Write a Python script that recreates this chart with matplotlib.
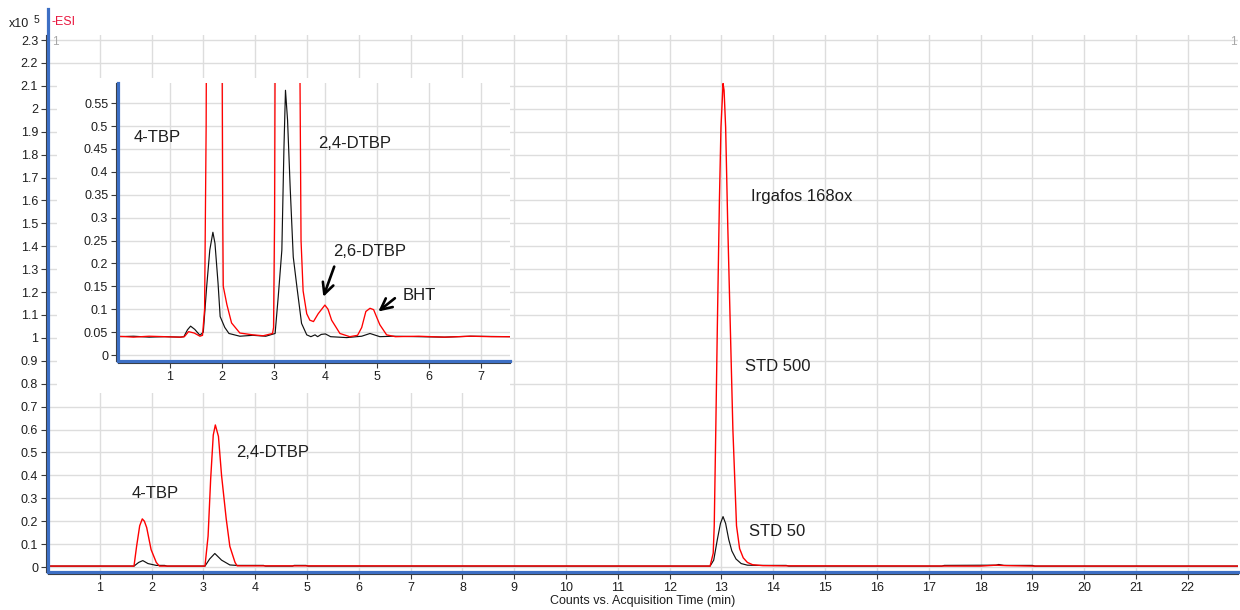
import numpy as np
import matplotlib
matplotlib.use("Agg")
import matplotlib.pyplot as plt
from matplotlib.patches import Rectangle
from matplotlib.ticker import FuncFormatter

plt.rcParams['font.family'] = ['Liberation Sans', 'DejaVu Sans']

# ---------------- data (x10^5 counts vs. acquisition time in min) ----------------
# STD 500 trace (red), full run
std500_t = [0.0, 1.66, 1.71, 1.77, 1.82, 1.86, 1.905, 1.99, 2.09, 2.15,
            3.03, 3.09, 3.14, 3.19, 3.23, 3.29, 3.35, 3.44, 3.51, 3.61, 3.65,
            12.78, 12.84, 12.86, 12.89, 12.92, 12.96, 12.99, 13.03, 13.05, 13.08,
            13.12, 13.17, 13.22, 13.29, 13.35, 13.42, 13.5, 13.6, 13.8, 14.2,
            18.0, 18.3, 18.5, 19.0, 22.97]
std500_i = [0.004, 0.004, 0.09, 0.18, 0.21, 0.20, 0.172, 0.076, 0.02, 0.004,
            0.004, 0.135, 0.385, 0.576, 0.62, 0.57, 0.40, 0.21, 0.09, 0.02, 0.005,
            0.004, 0.06, 0.18, 0.6, 1.05, 1.6, 1.92, 2.11, 2.08, 1.92,
            1.5, 1.05, 0.6, 0.18, 0.08, 0.04, 0.02, 0.01, 0.006, 0.005,
            0.004, 0.008, 0.006, 0.004, 0.004]

# STD 50 trace (black), full run
std50_t = [0.0, 1.66, 1.75, 1.83, 1.93, 2.09, 2.25, 2.3,
           3.03, 3.12, 3.22, 3.35, 3.51, 3.64, 4.16, 4.2, 4.72, 4.75, 4.98, 5.02,
           12.78, 12.85, 12.92, 12.98, 13.03, 13.08, 13.14, 13.2, 13.28, 13.38,
           13.5, 13.7, 14.25, 14.3, 17.25, 17.3, 18.3, 18.35, 18.45, 19.0, 19.05, 22.97]
std50_i = [0.004, 0.004, 0.02, 0.028, 0.015, 0.007, 0.007, 0.004,
           0.004, 0.035, 0.059, 0.03, 0.009, 0.007, 0.007, 0.004, 0.004, 0.007, 0.007, 0.004,
           0.004, 0.03, 0.12, 0.19, 0.22, 0.19, 0.12, 0.07, 0.035, 0.015,
           0.008, 0.007, 0.007, 0.004, 0.004, 0.007, 0.008, 0.011, 0.007, 0.007, 0.004, 0.004]

# Zoomed region, STD 500 (red)
zoom500_t = [0.0, 0.3, 0.6, 0.9, 1.2, 1.28, 1.36, 1.47, 1.58, 1.63, 1.67, 1.70, 1.72,
             1.80, 1.84, 1.92, 1.98, 2.01, 2.02, 2.03, 2.10, 2.19, 2.35, 2.6, 2.8,
             2.98, 3.00, 3.02, 3.04, 3.15, 3.22, 3.30, 3.42, 3.48, 3.51, 3.53, 3.57,
             3.64, 3.70, 3.77, 3.86, 3.99, 4.05, 4.12, 4.28, 4.47, 4.62, 4.70, 4.78,
             4.86, 4.93, 4.98, 5.05, 5.18, 5.35, 5.8, 6.3, 6.8, 7.2, 7.56]
zoom500_i = [0.041, 0.039, 0.041, 0.040, 0.039, 0.040, 0.051, 0.048, 0.041, 0.043, 0.10, 0.5, 1.2,
             2.0, 2.1, 1.9, 1.2, 0.6, 0.3, 0.15, 0.11, 0.07, 0.048, 0.044, 0.042,
             0.047, 0.06, 0.3, 1.0, 4.5, 6.2, 5.0, 2.0, 1.5, 0.6, 0.25, 0.14,
             0.09, 0.076, 0.073, 0.09, 0.109, 0.10, 0.076, 0.047, 0.040, 0.043, 0.06, 0.095,
             0.102, 0.099, 0.085, 0.066, 0.044, 0.040, 0.041, 0.039, 0.041, 0.040, 0.040]

# Zoomed region, STD 50 (black)
zoom50_t = [0.0, 0.3, 0.6, 0.9, 1.2, 1.27, 1.34, 1.40, 1.48, 1.58, 1.645, 1.71, 1.77,
            1.83, 1.87, 1.93, 1.97, 2.06, 2.14, 2.35, 2.6, 2.85, 3.00, 3.03, 3.09,
            3.16, 3.20, 3.23, 3.27, 3.32, 3.38, 3.45, 3.54, 3.64, 3.72, 3.80, 3.85,
            3.92, 4.00, 4.10, 4.41, 4.70, 4.86, 5.05, 5.3, 5.8, 6.3, 6.8, 7.56]
zoom50_i = [0.040, 0.041, 0.039, 0.040, 0.039, 0.040, 0.055, 0.063, 0.056, 0.043, 0.050, 0.149, 0.229,
            0.268, 0.244, 0.156, 0.084, 0.060, 0.047, 0.041, 0.043, 0.041, 0.046, 0.047, 0.127,
            0.229, 0.45, 0.578, 0.513, 0.367, 0.214, 0.149, 0.069, 0.044, 0.040, 0.044, 0.040,
            0.045, 0.046, 0.040, 0.038, 0.041, 0.047, 0.040, 0.041, 0.040, 0.039, 0.041, 0.040]

main_xticks = list(range(1, 23))
main_yticks = [round(0.1 * k, 1) for k in range(24)]
zoom_xticks = list(range(1, 8))
zoom_yticks = [round(0.05 * k, 2) for k in range(12)]

# ---------------- layout helpers ----------------
W, H = 1240, 610
BLUE = '#3d6fc4'
GRID = '#dddddd'
TXT = '#1e1e1e'


def fx(px):
    return px / W


def fy(py):
    return 1 - py / H


fmt = FuncFormatter(lambda v, p: '%g' % v)

fig = plt.figure(figsize=(W / 100, H / 100), dpi=100)


def style_axes(a, ext_top=0.0):
    a.set_axisbelow(True)
    a.grid(True, color=GRID, lw=1.0)
    for s in ('top', 'right'):
        a.spines[s].set_visible(False)
    for s in ('left', 'bottom'):
        a.spines[s].set_color('#3a3a3a')
        a.spines[s].set_linewidth(0.8)
        a.spines[s].set_position(('outward', 1.6))
    a.tick_params(direction='out', length=3.5, width=0.8, color='#3a3a3a',
                  labelsize=9, labelcolor=TXT, pad=2)
    a.xaxis.set_major_formatter(fmt)
    a.yaxis.set_major_formatter(fmt)
    a.axvline(a.get_xlim()[0], ymin=0, ymax=1 + ext_top, color=BLUE, lw=2.3,
              clip_on=False, zorder=6)
    a.axhline(a.get_ylim()[0], color=BLUE, lw=2.3, clip_on=False, zorder=6)


# ---------------- main chromatogram ----------------
ax = fig.add_axes([fx(48), fy(572), fx(1238) - fx(48), fy(35) - fy(572)])
ax.set_xlim(0, 22.97)
ax.set_ylim(-0.0218, 2.322)
ax.set_xticks(main_xticks)
ax.set_yticks(main_yticks)
style_axes(ax, ext_top=26 / 537)

ax.plot(std50_t, std50_i, color='#111111', lw=0.85, zorder=3)
ax.plot(std500_t, std500_i, color='#ff0000', lw=1.0, zorder=4)

lab = dict(fontsize=12, color=TXT, ha='left', va='center')
ax.text(1.62, 0.323, '4-TBP', **lab)
ax.text(3.63, 0.50, '2,4-DTBP', **lab)
ax.text(13.57, 1.616, 'Irgafos 168ox', **lab)
ax.text(13.46, 0.873, 'STD 500', **lab)
ax.text(13.53, 0.157, 'STD 50', **lab)

# header marks
fig.text(fx(9), fy(24), 'x10', fontsize=9, color=TXT, ha='left', va='center')
fig.text(fx(34), fy(20), '5', fontsize=7.5, color=TXT, ha='left', va='center')
fig.text(fx(51), fy(22), '-ESI', fontsize=9, color='#e8173f', ha='left', va='center')
fig.text(fx(52), fy(42), '1', fontsize=8.5, color='#a8a8a8', ha='left', va='center')
fig.text(fx(1230), fy(42), '1', fontsize=8.5, color='#a8a8a8', ha='left', va='center')
fig.text(fx(643), fy(601), 'Counts vs. Acquisition Time (min)', fontsize=9,
         color=TXT, ha='center', va='center')

# white backing behind the zoomed panel
fig.add_artist(Rectangle((fx(57), fy(393)), fx(510) - fx(57), fy(78) - fy(393),
                         transform=fig.transFigure, facecolor='white',
                         edgecolor='none', zorder=2))

# ---------------- zoomed panel ----------------
axin = fig.add_axes([fx(118), fy(361), fx(510) - fx(118), fy(83) - fy(361)], zorder=3)
axin.set_facecolor('white')
axin.set_xlim(0, 7.56)
axin.set_ylim(-0.0131, 0.5939)
axin.set_xticks(zoom_xticks)
axin.set_yticks(zoom_yticks)
style_axes(axin)

axin.plot(zoom50_t, zoom50_i, color='#111111', lw=0.85, zorder=3)
axin.plot(zoom500_t, zoom500_i, color='#ff0000', lw=0.95, zorder=4)

axin.text(0.31, 0.474, '4-TBP', **lab)
axin.text(3.86, 0.461, '2,4-DTBP', **lab)
axin.text(4.14, 0.226, '2,6-DTBP', **lab)
axin.text(5.48, 0.129, 'BHT', **lab)

arrow = dict(arrowstyle='->,head_length=0.8,head_width=0.4', color='black', lw=1.9,
             shrinkA=0, shrinkB=0)
axin.annotate('', xy=(3.96, 0.127), xytext=(4.17, 0.193), arrowprops=arrow)
axin.annotate('', xy=(5.02, 0.095), xytext=(5.34, 0.124), arrowprops=arrow)

fig.savefig('out.png', dpi=100)
